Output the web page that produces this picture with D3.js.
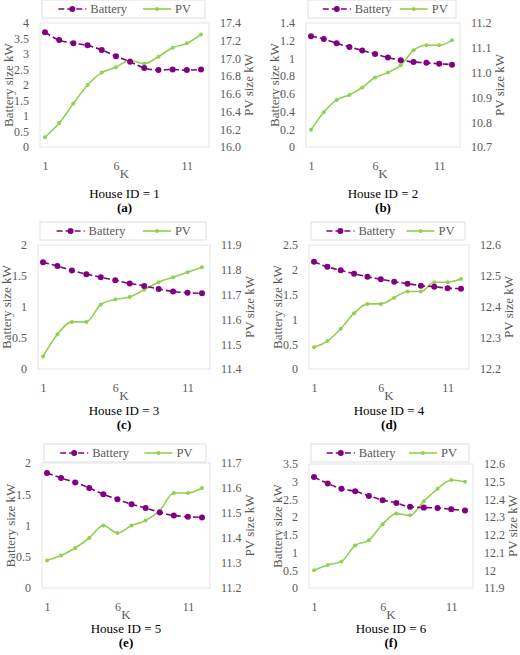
<!DOCTYPE html>
<html><head><meta charset="utf-8">
<script src="https://cdn.jsdelivr.net/npm/d3@7"></script>
<style>body{margin:0;background:#fff}svg text{font-family:"Liberation Serif","Times New Roman",serif !important}</style>
</head><body><svg id="c" width="520" height="655"></svg>
<script>
const K = [1,2,3,4,5,6,7,8,9,10,11,12];
const kTicks = [1,6,11];
const houseIds = [1,2,3,4,5,6];
const panelLetters = ["(a)","(b)","(c)","(d)","(e)","(f)"];
const battery1 = [3.7,3.45,3.35,3.28,3.13,2.93,2.75,2.55,2.48,2.5,2.48,2.5];
const pv1 = [16.11,16.27,16.49,16.70,16.84,16.90,16.98,16.94,17.02,17.12,17.17,17.27];
const battery2 = [1.25,1.22,1.17,1.13,1.09,1.05,1.01,0.98,0.96,0.95,0.94,0.93];
const pv2 = [10.77,10.84,10.89,10.91,10.94,10.98,11.00,11.03,11.09,11.11,11.11,11.13];
const battery3 = [1.72,1.66,1.59,1.53,1.48,1.43,1.38,1.34,1.29,1.25,1.23,1.22];
const pv3 = [11.45,11.54,11.59,11.59,11.66,11.68,11.69,11.72,11.75,11.77,11.79,11.81];
const battery4 = [2.16,2.06,1.99,1.92,1.86,1.81,1.76,1.72,1.68,1.66,1.63,1.62];
const pv4 = [12.27,12.29,12.33,12.38,12.41,12.41,12.43,12.45,12.45,12.48,12.48,12.49];
const battery5 = [1.84,1.76,1.69,1.60,1.50,1.42,1.34,1.28,1.21,1.16,1.14,1.13];
const pv5 = [11.31,11.33,11.36,11.40,11.45,11.42,11.45,11.47,11.51,11.58,11.58,11.60];
const battery6 = [3.13,2.95,2.80,2.73,2.60,2.48,2.40,2.29,2.27,2.26,2.22,2.19];
const pv6 = [12.00,12.03,12.05,12.14,12.17,12.26,12.32,12.31,12.39,12.46,12.51,12.50];
const leftTicks1 = [0,0.5,1,1.5,2,2.5,3,3.5,4];
const rightTicks1 = [16.0,16.2,16.4,16.6,16.8,17.0,17.2,17.4];
const leftTicks2 = [0,0.2,0.4,0.6,0.8,1,1.2,1.4];
const rightTicks2 = [10.7,10.8,10.9,11.0,11.1,11.2];
const leftTicks3 = [0,0.5,1,1.5,2];
const rightTicks3 = [11.4,11.5,11.6,11.7,11.8,11.9];
const leftTicks4 = [0,0.5,1,1.5,2,2.5];
const rightTicks4 = [12.2,12.3,12.4,12.5,12.6];
const leftTicks5 = [0,0.5,1,1.5,2];
const rightTicks5 = [11.2,11.3,11.4,11.5,11.6,11.7];
const leftTicks6 = [0,0.5,1,1.5,2,2.5,3,3.5];
const rightTicks6 = [11.9,12,12.1,12.2,12.3,12.4,12.5,12.6];
const rightFmt = [".1f",".1f",".1f",".1f",".1f",""];

const batteries=[battery1,battery2,battery3,battery4,battery5,battery6];
const pvs=[pv1,pv2,pv3,pv4,pv5,pv6];
const lts=[leftTicks1,leftTicks2,leftTicks3,leftTicks4,leftTicks5,leftTicks6];
const rts=[rightTicks1,rightTicks2,rightTicks3,rightTicks4,rightTicks5,rightTicks6];
const boxes=[[40,209,23,147,0,65],[306,460,23,147,0,65],[38,210,245,369,222,60],[309,469,245,369,222,60],[42,210,463,588,444,59],[309,473,464,588,444,59]];
const BC="#820082", PC="#92D050", TC="#595959";
const svg=d3.select("#c");
boxes.forEach((b,i)=>{
  const [x0,x1,y0,y1,oy,ld]=b;
  const g=svg.append("g");
  const x=d3.scaleLinear().domain([1,12]).range([x0+5,x1-8]);
  const lt=lts[i], rt=rts[i];
  const yl=d3.scaleLinear().domain([lt[0],lt[lt.length-1]]).range([y1,y0]);
  const yr=d3.scaleLinear().domain([rt[0],rt[rt.length-1]]).range([y1,y0]);
  g.append("rect").attr("x",x0).attr("y",y0).attr("width",x1-x0).attr("height",y1-y0).attr("fill","none").attr("stroke","#e6e6e6");
  const ax=(sel)=>{sel.select(".domain").remove();sel.selectAll("line").remove();sel.selectAll("text").attr("fill",TC).style("font-size","12px");};
  g.append("g").attr("transform",`translate(${x0},0)`).call(d3.axisLeft(yl).tickValues(lt).tickFormat(d3.format("")).tickPadding(5)).call(ax);
  g.append("g").attr("transform",`translate(${x1},0)`).call(d3.axisRight(yr).tickValues(rt).tickFormat(rightFmt[i]?d3.format(rightFmt[i]):d3.format("")).tickPadding(5)).call(ax);
  g.append("g").attr("transform",`translate(0,${y1})`).call(d3.axisBottom(x).tickValues(kTicks).tickPadding(8)).call(ax);
  g.append("text").attr("x",(x0+x1)/2).attr("y",y1+31).attr("text-anchor","middle").attr("fill",TC).style("font-size","13px").text("K");
  g.append("text").attr("x",(x0+x1)/2).attr("y",y1+ld-14).attr("text-anchor","middle").attr("fill","#000").style("font-size","13px").text("House ID = "+houseIds[i]);
  g.append("text").attr("x",(x0+x1)/2).attr("y",y1+ld).attr("text-anchor","middle").attr("fill","#000").style("font-size","13px").style("font-weight","bold").text(panelLetters[i]);
  const cy=(y0+y1)/2;
  g.append("text").attr("transform",`translate(${x0-27},${cy}) rotate(-90)`).attr("text-anchor","middle").attr("fill",TC).style("font-size","13px").text("Battery size kW");
  g.append("text").attr("transform",`translate(${x1+44},${cy}) rotate(-90)`).attr("text-anchor","middle").attr("fill",TC).style("font-size","13px").text("PV size kW");
  const line=(ys)=>d3.line().x((d,j)=>x(K[j])).y(d=>ys(d)).curve(d3.curveMonotoneX);
  g.append("path").datum(pvs[i]).attr("d",line(yr)).attr("fill","none").attr("stroke",PC).attr("stroke-width",1.6);
  g.selectAll(".pp").data(pvs[i]).join("circle").attr("cx",(d,j)=>x(K[j])).attr("cy",d=>yr(d)).attr("r",2).attr("fill",PC);
  g.append("path").datum(batteries[i]).attr("d",line(yl)).attr("fill","none").attr("stroke",BC).attr("stroke-width",1.6).attr("stroke-dasharray","6,3");
  g.selectAll(".bp").data(batteries[i]).join("circle").attr("cx",(d,j)=>x(K[j])).attr("cy",d=>yl(d)).attr("r",3).attr("fill",BC);
  const ly0=oy, lx0=x0+2, lx1=x1-4;
  g.append("rect").attr("x",lx0).attr("y",ly0).attr("width",lx1-lx0).attr("height",18).attr("fill","#fff").attr("stroke","#e0e0e0");
  const lm=ly0+9, w=lx1-lx0;
  const bx=lx0+w*0.1;
  g.append("line").attr("x1",bx).attr("x2",bx+28).attr("y1",lm).attr("y2",lm).attr("stroke",BC).attr("stroke-width",1.6).attr("stroke-dasharray","6,3");
  g.append("circle").attr("cx",bx+14).attr("cy",lm).attr("r",3).attr("fill",BC);
  g.append("text").attr("x",bx+32).attr("y",lm+4).attr("fill",TC).style("font-size","12.5px").text("Battery");
  const px=lx0+w*0.62;
  g.append("line").attr("x1",px).attr("x2",px+28).attr("y1",lm).attr("y2",lm).attr("stroke",PC).attr("stroke-width",1.6);
  g.append("circle").attr("cx",px+14).attr("cy",lm).attr("r",2).attr("fill",PC);
  g.append("text").attr("x",px+32).attr("y",lm+4).attr("fill",TC).style("font-size","12.5px").text("PV");
});
</script></body></html>
